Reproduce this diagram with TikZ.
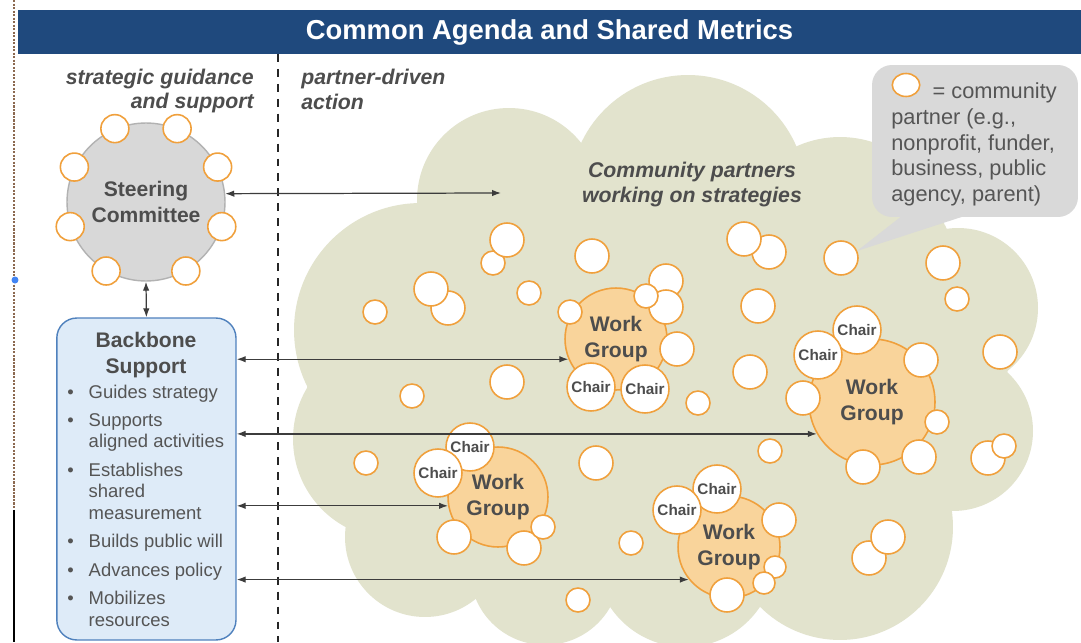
\documentclass[tikz,border=0pt]{standalone}
\usepackage{fontspec}
\setmainfont{Liberation Sans}
\usetikzlibrary{positioning, shapes.geometric, arrows.meta, calc}

\definecolor{balkenblau}{RGB}{31,73,125}
\definecolor{textgrau}{RGB}{77,77,77}
\definecolor{fliesgrau}{RGB}{85,85,85}
\definecolor{wolke}{RGB}{226,227,205}
\definecolor{partnerorange}{RGB}{240,160,60}
\definecolor{gruppenfill}{RGB}{249,212,155}
\definecolor{kreisgrau}{RGB}{216,216,216}
\definecolor{kreisrand}{RGB}{178,178,178}
\definecolor{rueckgrat}{RGB}{222,235,248}
\definecolor{rueckgratrand}{RGB}{79,129,189}
\definecolor{legendegrau}{RGB}{217,217,217}
\definecolor{pfeilgrau}{RGB}{60,60,60}
\definecolor{randbraun}{RGB}{140,105,80}
\definecolor{markerblau}{RGB}{66,133,244}

\tikzset{
    partner/.style={
        circle,
        draw=partnerorange,   % orange Kontur
        fill=white,
        line width=0.9pt,
        inner sep=0pt,
        minimum size=#1*0.04cm % Radius in Bildpunkten
    },
    partner/.default=17,
    chair/.style={
        partner=24,
        font=\fontsize{8.7}{10}\selectfont\bfseries,
        text=textgrau
    },
    gruppe/.style={
        circle,
        draw=partnerorange,
        fill=gruppenfill,
        line width=0.9pt,
        inner sep=0pt,
        minimum size=#1*0.04cm,
        align=center,
        font=\fontsize{12}{14.8}\selectfont\bfseries,
        text=textgrau
    },
    gruppe/.default=51,
    kopf/.style={
        font=\fontsize{12.1}{14.2}\selectfont\bfseries\itshape,
        text=textgrau,
        inner sep=0pt
    },
    fett/.style={
        font=\fontsize{12}{14.8}\selectfont\bfseries,
        text=textgrau,
        align=center,
        inner sep=0pt
    },
    doppelpfeil/.style={
        <->,
        >={Latex[length=1.8mm,width=1.3mm]},
        draw=pfeilgrau,
        line width=0.7pt
    },
    trennlinie/.style={
        draw=black!85,
        line width=1.1pt,
        dash pattern=on 4.5pt off 4pt
    }
}

\begin{document}
\begin{tikzpicture}[x=0.02cm, y=-0.02cm]

    \useasboundingbox (0,0) rectangle (1081,642);
    \clip (0,0) rectangle (1081,642);
    \fill[white] (0,0) rectangle (1081,642);

    % Wolke aus Kreisboegen und Fuellflaeche
    \fill[wolke] (417,204) -- (581,143) -- (795,147) -- (945,225) -- (1008,370)
        -- (952,511) -- (760,607) -- (610,607) -- (480,595) -- (346,527)
        -- (307,387) -- cycle;
    \foreach \x/\y/\r in {509/200/1.84cm, 688/193/2.36cm, 840/243/2.12cm,
        958/308/1.60cm, 953/431/1.60cm, 840/527/2.26cm, 685/557/1.80cm,
        545/570/1.50cm, 425/537/1.60cm, 393/439/2.00cm, 421/330/2.54cm}
        \fill[wolke] (\x,\y) circle[radius=\r];

    % Rand des Bildschirmfotos
    \draw[randbraun, line width=0.9pt, dash pattern=on 1.2pt off 0.8pt] (14,0) -- (14,510);
    \draw[black, line width=1pt] (14,510) -- (14,642);
    \fill[markerblau] (15,280) circle[radius=0.07cm];

    % Titelbalken
    \node[fill=balkenblau, text=white, inner sep=0pt,
          minimum width=21.26cm, minimum height=0.88cm,
          font=\fontsize{15.6}{18}\selectfont\bfseries] (agenda) at (549.5,32)
          {Common Agenda and Shared Metrics};

    % Trennlinie
    \draw[trennlinie] (278,54) -- (278,642);

    % Ueberschriften
    \node[kopf, anchor=east, align=right] (leitung) at (254,91) {strategic guidance\\and support};
    \node[kopf, anchor=west, align=left] (aktion) at (301,89) {partner-driven\\action};
    \node[kopf, align=center] (wolkentext) at (692,184.5) {Community partners\\working on strategies};

    % Steering Committee
    \node[circle, fill=kreisgrau, draw=kreisrand, line width=0.8pt, minimum size=3.16cm,
          inner sep=0pt, fett] (sc) at (146,202) {Steering\\Committee};
    \foreach \w [count=\i] in {67,26,-18,-60,113,154,198,240}
        \node[partner=14] (sc\i) at (sc.\w) {};

    % Backbone Support
    \node[rectangle, rounded corners=0.4cm, fill=rueckgrat, draw=rueckgratrand,
          line width=0.8pt, minimum width=3.584cm, minimum height=6.44cm] (bb) at (146.4,479) {};
    \node[fett] (bbtitel) at (146,355) {Backbone\\Support};
    \node[anchor=base west, inner sep=0pt, text=fliesgrau,
          font=\fontsize{10.5}{12.2}\selectfont] (bbliste) at (67,398) {%
        \begin{tabular}[t]{@{}l@{\hspace{8.5pt}}l@{}}
            \textbullet & Guides strategy\\[4pt]
            \textbullet & Supports\\
                        & aligned activities\\[4pt]
            \textbullet & Establishes\\
                        & shared\\
                        & measurement\\[4pt]
            \textbullet & Builds public will\\[4pt]
            \textbullet & Advances policy\\[4pt]
            \textbullet & Mobilizes\\
                        & resources
        \end{tabular}};

    % Legende mit Sprechblase
    \node[rectangle, rounded corners=0.4cm, fill=legendegrau, inner sep=0pt,
          minimum width=4.12cm, minimum height=3.04cm] (legende) at (975,141) {};
    \coordinate (spitze) at (857,251);
    \fill[legendegrau] ($(legende.south west)+(31,-2)$) -- (spitze)
        -- ($(legende.south west)+(95,-2)$) -- cycle;
    \node[partner, ellipse, minimum width=0.55cm, minimum height=0.46cm] (legkreis) at (906,85) {};
    \node[anchor=west, align=left, inner sep=0pt, text=fliesgrau,
          font=\fontsize{12.4}{14.65}\selectfont] (legtext) at (891,144.5)
          {\hspace*{23.5pt}= community\\partner (e.g.,\\nonprofit, funder,\\business, public\\agency, parent)};

    % Arbeitsgruppen
    \node[gruppe] (wg1) at (616,339) {Work\\Group};
    \node[gruppe=63] (wg2) at (872,402) {Work\\Group};
    \node[gruppe=50] (wg3) at (498,497) {Work\\Group};
    \node[gruppe] (wg4) at (729,547) {Work\\Group};

    % Partner in der Wolke
    \foreach \x/\y/\r [count=\i] in {
        493/263/12, 507/240/17, 592/256/17, 448/308/17, 431/289/17,
        375/312/12, 529/293/12, 666/281/17, 666/307/17, 646/296/12,
        570/312/12, 677/349/17, 507/382/17, 412/396/12, 698/403/12,
        769/252/17, 744/239/17, 841/258/17, 943/263/17, 957/299/12,
        758/306/17, 750/372/17, 1000/352/17, 921/360/17, 803/398/17,
        937/422/12, 863/467/17, 919/457/17, 988/458/17, 1004/446/12,
        596/463/17, 770/451/12, 779/520/17, 775/567/11, 764/583/11,
        727/595/17, 631/543/12, 578/600/12, 869/558/17, 888/537/17,
        366/463/12, 454/537/17, 524/548/17, 543/527/12}
        \node[partner=\r] (p\i) at (\x,\y) {};

    % Vorsitzende
    \node[chair] (ch1) at (591,387) {Chair};
    \node[chair] (ch2) at (645,389) {Chair};
    \node[chair] (ch3) at (857,330) {Chair};
    \node[chair] (ch4) at (818,355) {Chair};
    \node[chair] (ch5) at (470,447) {Chair};
    \node[chair] (ch6) at (438,473) {Chair};
    \node[chair] (ch7) at (717,489) {Chair};
    \node[chair] (ch8) at (677,510) {Chair};

    % Verbindungen
    \coordinate (wolkenziel) at (501,193);
    \draw[doppelpfeil] (sc.6.5) -- (wolkenziel);
    \draw[doppelpfeil] (sc.south) -- (bb.north);
    \draw[doppelpfeil] (bb.east |- wg1.203) -- (wg1.203);
    \draw[doppelpfeil] (bb.east |- wg2.210) -- (wg2.210);
    \draw[doppelpfeil] (bb.east |- wg3.190) -- (wg3.190);
    \draw[doppelpfeil] (bb.east |- wg4.219) -- (wg4.219);

\end{tikzpicture}
\end{document}
